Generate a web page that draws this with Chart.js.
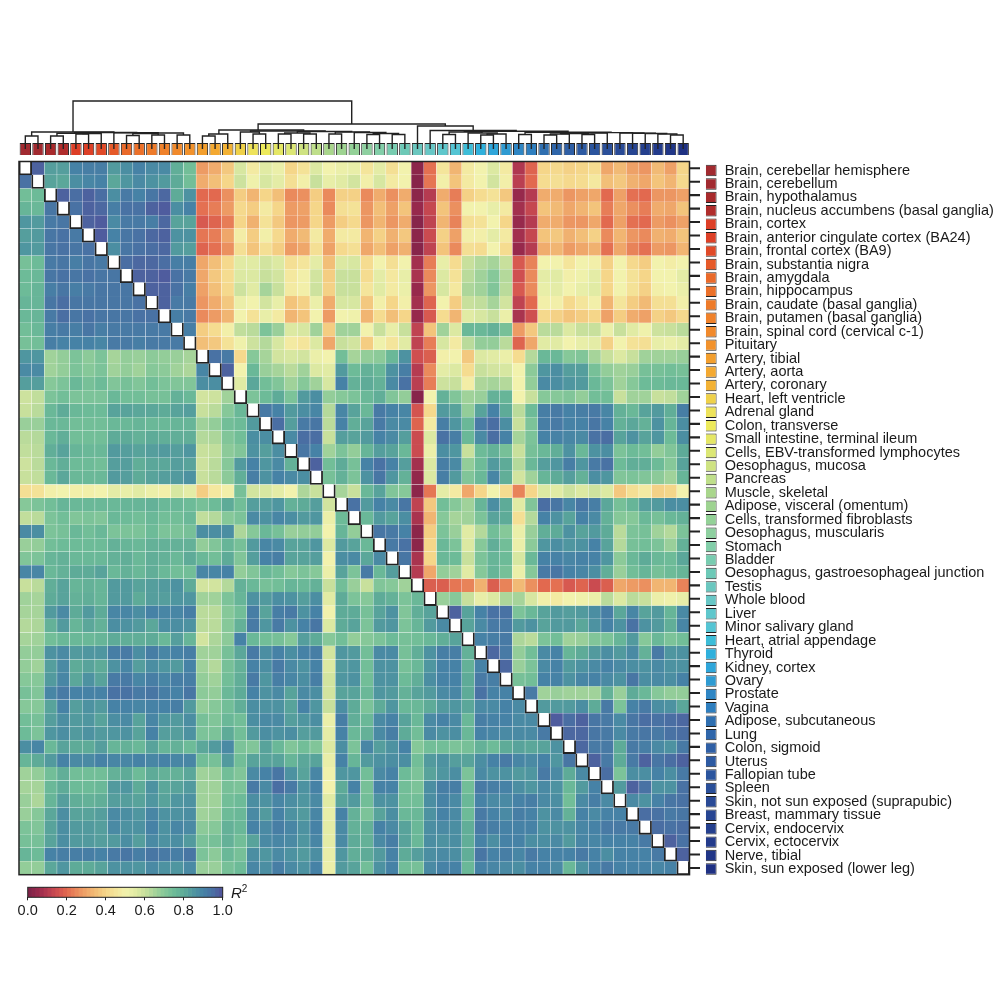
<!DOCTYPE html>
<html>
<head>
<meta charset="utf-8">
<script src="https://cdn.jsdelivr.net/npm/chart.js@4"></script>
<style>
  body { margin: 0; background: #fff; width: 1000px; height: 1000px; position: relative; overflow: hidden; }
  canvas { position: absolute; }
  #r2label { position: absolute; left: 231px; top: 884px; font: 15px "Liberation Sans", sans-serif; color: #1a1a1a; }
  #r2label sup { font-size: 10px; line-height: 0; }
</style>
</head>
<body>
<canvas id="swatchTop" width="680" height="20" style="left:15px;top:140px"></canvas>
<canvas id="dendro" width="680" height="60" style="left:15px;top:90px"></canvas>
<canvas id="heat" width="680" height="720" style="left:15px;top:158px"></canvas>
<canvas id="ticks" width="12" height="720" style="left:689px;top:158px"></canvas>
<canvas id="tissueKey" width="300" height="720" style="left:700px;top:160px"></canvas>
<canvas id="colorbar" width="225" height="40" style="left:14px;top:883px"></canvas>
<div id="r2label"><i>R</i><sup>2</sup></div>
<script>
const tissues = [
  "Brain, cerebellar hemisphere", "Brain, cerebellum", "Brain, hypothalamus",
  "Brain, nucleus accumbens (basal ganglia)", "Brain, cortex",
  "Brain, anterior cingulate cortex (BA24)", "Brain, frontal cortex (BA9)",
  "Brain, substantia nigra", "Brain, amygdala", "Brain, hippocampus",
  "Brain, caudate (basal ganglia)", "Brain, putamen (basal ganglia)",
  "Brain, spinal cord (cervical c-1)", "Pituitary", "Artery, tibial", "Artery, aorta",
  "Artery, coronary", "Heart, left ventricle", "Adrenal gland", "Colon, transverse",
  "Small intestine, terminal ileum", "Cells, EBV-transformed lymphocytes",
  "Oesophagus, mucosa", "Pancreas", "Muscle, skeletal", "Adipose, visceral (omentum)",
  "Cells, transformed fibroblasts", "Oesophagus, muscularis", "Stomach", "Bladder",
  "Oesophagus, gastroesophageal junction", "Testis", "Whole blood", "Liver",
  "Minor salivary gland", "Heart, atrial appendage", "Thyroid", "Kidney, cortex", "Ovary",
  "Prostate", "Vagina", "Adipose, subcutaneous", "Lung", "Colon, sigmoid", "Uterus",
  "Fallopian tube", "Spleen", "Skin, not sun exposed (suprapubic)", "Breast, mammary tissue",
  "Cervix, endocervix", "Cervix, ectocervix", "Nerve, tibial", "Skin, sun exposed (lower leg)"
];

const tissueColors = [
  "#a12a30", "#a12a30", "#a82a2c", "#b02d2c", "#dd3f27", "#dd4027", "#e04a28", "#e65a29",
  "#ea6a2a", "#ec712a", "#ee7b2a", "#f0822b", "#f18a2c", "#f2922c", "#f39f2e", "#f4a931",
  "#f3b235", "#efd14a", "#eee35b", "#edea5c", "#e5e766", "#dce775", "#cfe382", "#bfdf8b",
  "#a9d68c", "#9ed391", "#93d197", "#8ed0a0", "#83cea9", "#78ccb0", "#6dc9b7", "#6bc7bf",
  "#68c7c6", "#5fc7cc", "#55c5d4", "#3dbdd8", "#2fb0dc", "#2fa6da", "#2f9bd2", "#2f86c4",
  "#2f7fbf", "#2f6fb0", "#2f66aa", "#2f5fa5", "#2d5aa2", "#2b559e", "#2a4f99", "#294a96",
  "#274592", "#25408e", "#233b8b", "#213687", "#1f3183"
];

// R2 in percent, one row per tissue, null on the diagonal
const r2 = [
  [null,97,83,83,90,91,91,84,87,90,88,88,79,74,28,31,37,57,47,55,52,40,44,56,50,52,53,45,54,43,50,3,21,45,33,47,50,56,47,9,19,40,41,39,40,42,30,34,29,27,34,29,40],
  [94,null,82,81,87,89,90,81,85,88,86,84,80,74,31,35,40,59,51,57,54,43,49,60,53,55,58,49,57,47,50,2,22,49,36,47,50,58,49,11,20,42,43,41,42,46,35,37,32,30,36,33,41],
  [74,75,null,97,95,97,95,87,92,90,93,96,80,86,20,20,26,38,33,40,35,25,26,38,25,39,39,25,31,26,31,3,10,31,23,39,42,44,37,5,10,31,31,27,29,30,20,29,21,20,27,27,29],
  [77,76,93,null,94,97,96,91,94,94,97,98,87,90,21,23,28,41,38,47,40,28,29,40,25,43,44,27,35,29,36,5,13,36,26,50,50,53,47,7,13,36,34,30,33,36,23,30,26,23,31,30,36],
  [85,84,92,93,null,97,98,88,92,92,91,96,82,82,17,19,23,40,32,44,37,27,28,40,28,38,41,27,33,27,31,2,12,33,24,43,44,50,40,5,10,31,31,27,27,30,20,29,21,20,28,26,29],
  [83,84,93,94,92,null,98,90,93,94,96,97,86,86,22,23,30,48,38,49,41,31,34,47,31,47,47,33,39,32,37,3,14,39,29,49,49,54,47,7,13,36,37,32,35,39,25,33,27,25,32,31,36],
  [85,84,93,94,93,94,null,87,93,94,95,96,84,83,19,21,26,43,36,43,38,28,30,43,29,41,43,30,35,29,32,2,12,36,25,43,42,50,42,5,10,31,33,28,30,32,21,30,24,21,28,27,33],
  [73,75,92,93,91,93,92,null,95,96,96,95,91,91,30,35,41,55,55,58,56,43,45,54,35,56,57,42,50,43,50,7,23,53,42,60,63,65,60,17,24,50,50,45,50,49,39,50,41,38,50,48,50],
  [75,76,93,94,93,94,93,93,null,97,97,98,94,92,30,37,42,56,56,60,58,46,49,58,38,60,60,42,54,46,53,8,25,56,44,62,66,70,63,15,25,54,55,49,51,54,40,50,44,40,50,50,54],
  [75,77,91,93,91,92,93,93,93,null,97,97,94,91,29,35,41,59,55,65,60,47,49,59,39,60,60,45,55,47,52,5,27,57,46,64,66,71,62,17,25,53,54,50,53,55,40,50,44,39,49,50,52],
  [77,77,93,95,93,93,93,93,93,94,null,97,92,92,27,31,37,52,50,58,53,36,39,52,31,57,57,37,49,40,49,7,19,50,38,60,61,65,58,12,20,49,49,41,45,49,33,45,38,34,43,43,49],
  [76,77,92,95,93,94,93,93,93,94,94,null,91,92,25,28,33,50,44,53,47,33,36,50,28,50,51,33,42,35,40,5,17,42,33,55,57,60,52,8,15,41,39,36,38,40,29,38,31,29,39,37,41],
  [74,76,91,92,91,93,91,92,92,92,92,92,null,91,38,42,49,61,62,72,67,56,57,66,38,66,66,50,60,53,60,12,36,66,56,76,76,78,73,28,37,62,62,56,60,60,52,60,55,51,59,60,62],
  [73,74,91,90,90,90,89,92,92,91,92,92,92,null,35,37,44,51,59,63,57,47,45,56,30,60,58,38,51,45,55,12,23,57,47,62,68,68,62,19,30,55,55,50,53,54,39,50,44,43,53,52,54],
  [85,85,66,68,72,69,72,65,68,67,69,68,67,65,null,94,92,41,70,65,58,57,58,52,50,74,65,68,69,76,86,15,18,49,50,37,56,55,52,42,63,76,76,70,71,65,60,56,60,66,66,66,67],
  [88,88,66,68,72,70,72,66,68,66,70,69,66,64,89,null,97,50,76,67,65,62,66,56,55,84,75,78,76,86,91,10,25,54,56,42,60,58,57,50,69,85,87,83,83,73,68,66,67,73,73,74,73],
  [83,83,70,72,76,73,75,71,73,71,74,72,71,71,87,87,null,55,81,74,71,66,70,66,57,90,78,80,78,88,94,11,23,59,60,48,64,65,63,50,68,88,87,85,84,76,72,66,70,75,75,76,76],
  [59,61,72,74,72,72,72,76,74,74,73,73,78,76,58,59,66,null,72,75,80,72,84,87,68,70,72,76,79,71,68,2,50,78,71,66,67,78,77,50,60,70,70,71,68,74,74,60,66,66,60,61,66],
  [60,62,76,80,76,75,75,82,82,81,81,80,82,83,60,62,70,76,null,92,90,84,87,89,63,89,82,76,92,90,89,16,41,84,82,68,82,90,80,62,75,91,92,90,91,92,89,78,76,82,84,79,91],
  [67,67,76,76,74,74,74,76,76,77,76,76,77,77,66,68,74,75,84,null,95,83,92,93,62,90,79,82,92,88,88,19,47,91,85,76,92,95,87,60,72,91,92,90,90,93,90,78,81,78,86,77,87],
  [62,63,76,79,74,74,74,80,80,78,80,79,79,79,63,64,71,74,87,87,null,88,95,95,60,83,82,84,90,88,83,14,56,94,91,76,88,95,90,65,72,90,90,89,88,94,95,82,86,82,85,75,87],
  [61,62,79,82,77,76,76,84,83,82,83,84,83,85,60,61,69,71,86,83,87,null,93,90,66,72,68,77,83,82,76,14,52,87,85,60,75,78,73,60,73,76,79,86,76,86,87,72,75,74,68,71,80],
  [59,62,76,79,75,75,74,83,83,79,81,81,83,82,59,62,70,84,90,85,88,78,null,97,74,80,73,90,94,90,83,7,56,91,88,68,75,84,80,63,76,83,85,91,85,92,94,75,79,79,75,70,82],
  [60,61,76,81,76,76,76,84,83,80,82,83,84,86,60,62,69,79,91,86,90,88,87,null,73,78,72,86,93,85,78,4,56,91,84,71,76,89,79,58,66,77,80,83,78,87,85,71,72,71,69,66,77],
  [43,44,49,50,49,49,50,54,53,55,52,49,57,54,38,46,49,73,58,57,54,50,64,60,null,65,60,76,82,71,70,3,22,54,47,30,40,50,42,24,40,56,55,59,56,59,56,37,43,47,39,40,50],
  [70,72,74,77,76,76,76,76,77,77,78,76,76,75,73,75,80,74,83,83,85,78,80,83,58,null,94,84,90,88,93,12,37,74,70,66,77,87,80,55,71,95,93,89,93,91,81,73,77,83,84,87,87],
  [61,62,72,74,71,72,71,76,75,74,76,74,74,76,61,63,70,72,88,86,89,87,84,85,52,75,null,76,84,82,87,8,33,70,65,66,72,82,80,43,63,90,86,82,90,88,78,70,70,76,73,76,78],
  [88,87,72,73,76,74,76,72,72,72,75,72,72,73,87,87,87,64,70,76,73,67,68,68,50,77,68,null,93,92,90,3,38,72,67,55,63,74,70,52,67,79,80,86,82,84,80,62,72,73,66,63,72],
  [67,68,74,75,75,75,75,78,77,76,78,78,78,78,68,71,77,73,84,89,88,82,82,85,56,84,82,76,null,92,94,3,40,76,72,56,70,79,74,52,69,85,87,85,86,90,82,63,73,74,72,67,78],
  [71,72,77,78,76,76,76,78,79,76,79,78,76,80,76,74,80,71,83,90,91,82,82,83,50,87,88,81,88,null,93,8,40,76,75,60,72,77,75,57,76,90,90,89,90,90,85,69,76,80,76,75,81],
  [89,89,76,78,80,80,82,76,78,76,79,76,74,74,89,89,90,68,71,76,74,70,72,70,52,82,72,92,76,83,null,10,30,68,66,55,70,77,73,52,70,92,93,90,89,87,79,67,74,77,73,75,77],
  [60,62,79,82,77,78,77,84,84,82,83,84,86,80,58,58,63,78,76,73,74,77,76,78,60,74,67,60,71,70,66,null,18,18,22,24,32,18,24,34,26,20,21,17,19,14,18,30,28,26,33,33,24],
  [66,65,80,82,78,79,77,84,84,80,83,83,85,85,66,66,72,77,86,84,87,86,83,87,55,80,72,70,80,78,72,76,null,67,70,60,53,56,64,65,57,49,47,50,51,52,62,56,62,60,52,51,53],
  [65,65,84,88,80,84,80,89,89,87,90,89,89,91,62,62,70,74,91,82,91,92,86,90,50,80,80,73,82,86,71,79,82,null,97,82,90,94,94,72,76,82,84,83,84,87,91,81,89,82,84,77,88],
  [63,64,78,84,77,81,78,87,86,84,81,87,87,86,62,62,70,78,92,85,92,86,90,93,56,80,82,72,84,85,72,77,84,88,null,82,88,92,92,84,86,82,84,84,81,86,90,86,94,86,84,79,89],
  [65,66,74,76,76,76,77,80,79,79,80,76,83,77,58,64,69,90,76,74,73,70,83,80,70,74,68,70,72,75,73,74,76,79,82,null,90,91,92,64,62,72,74,66,67,71,72,77,84,70,76,72,74],
  [68,68,86,88,84,85,85,91,92,87,91,89,90,91,66,66,73,81,92,87,90,87,90,91,58,85,84,74,88,88,73,79,86,91,91,78,null,96,92,68,74,88,90,77,80,84,87,84,88,78,92,85,86],
  [68,66,83,88,80,82,80,86,89,83,87,85,84,90,66,63,73,78,90,87,92,88,86,90,56,84,85,74,86,86,73,76,85,90,90,78,90,null,96,67,72,88,90,84,86,88,90,88,87,86,88,86,86],
  [70,70,84,89,81,86,82,92,92,89,91,89,91,91,68,66,74,79,92,85,91,89,87,91,58,85,86,74,86,86,75,79,87,90,90,80,92,91,null,73,74,90,90,86,89,90,88,86,93,87,88,87,90],
  [73,71,89,92,90,90,90,94,94,92,93,91,90,93,69,68,76,80,90,86,88,82,88,87,58,82,82,76,85,84,78,82,84,88,89,80,94,90,90,null,92,66,67,66,66,66,78,67,80,76,70,68,68],
  [70,70,82,90,83,86,84,90,90,89,90,90,91,84,68,70,74,79,87,86,86,82,90,85,60,87,80,72,80,85,76,76,80,84,85,81,88,88,90,88,null,84,84,84,87,80,92,72,90,92,87,86,81],
  [74,73,83,87,84,85,82,87,88,82,89,85,84,87,73,71,76,74,87,88,88,83,85,87,52,91,79,76,88,90,82,76,88,90,88,76,91,90,90,88,88,null,98,95,97,93,92,88,93,95,94,95,96],
  [75,72,85,87,84,86,84,85,86,82,90,83,83,86,72,72,80,74,84,87,86,87,83,84,54,90,76,78,88,91,80,74,88,86,87,76,90,89,88,88,88,92,null,96,96,93,92,88,92,93,92,94,95],
  [87,89,76,82,80,80,83,77,78,76,82,77,78,75,81,84,88,72,71,82,76,71,74,71,56,87,72,89,83,86,90,70,74,74,72,73,78,75,80,82,81,82,86,null,96,92,92,80,92,91,88,86,92],
  [77,80,84,90,88,88,90,89,89,90,89,90,89,89,74,73,84,74,82,82,82,77,81,82,53,90,77,84,86,87,87,74,84,86,83,82,87,90,92,89,88,90,85,93,null,97,92,80,92,97,93,95,97],
  [66,68,74,79,74,74,74,78,80,75,80,78,78,81,66,67,74,71,88,90,93,86,82,89,51,85,85,74,88,90,75,72,82,85,87,72,88,86,86,84,85,92,88,80,88,null,95,72,87,87,90,87,92],
  [65,65,76,80,75,75,76,84,85,80,86,81,82,84,66,66,73,72,92,88,95,92,86,90,50,80,90,73,90,90,74,72,87,91,91,74,92,91,90,87,85,88,86,76,84,90,null,84,97,94,86,86,94],
  [67,64,77,83,79,78,79,83,83,82,85,82,85,86,66,66,74,75,87,86,89,87,85,88,55,82,84,74,86,86,74,74,87,90,88,76,90,88,88,90,91,88,87,74,88,91,88,null,88,86,90,93,94],
  [67,70,81,87,82,82,83,88,87,85,89,86,86,87,66,67,75,76,88,84,90,86,84,89,53,90,78,72,82,87,76,76,86,90,88,75,92,90,88,91,90,86,88,78,90,88,90,90,null,95,94,92,93],
  [72,71,82,87,84,84,83,88,86,86,90,86,89,88,69,70,78,76,90,88,91,89,86,90,54,88,78,78,90,88,82,76,87,88,87,79,92,91,90,90,90,86,86,86,89,90,92,92,92,null,95,94,95],
  [73,73,82,87,84,84,83,84,87,83,88,86,87,84,72,73,78,74,82,88,89,88,85,89,54,88,80,78,88,91,82,76,87,86,87,79,90,87,90,90,87,87,88,84,89,89,90,90,90,92,null,97,94],
  [77,75,90,91,91,91,90,92,93,91,93,92,91,93,72,69,76,73,87,85,88,86,84,87,53,85,79,80,84,90,80,83,87,88,87,79,93,90,91,89,92,90,90,90,92,90,87,90,90,90,92,null,97],
  [68,68,81,85,80,80,82,86,86,85,88,86,85,88,67,67,73,75,89,87,91,88,86,90,52,84,82,74,86,90,74,73,88,90,90,76,90,89,88,87,90,90,88,76,86,90,92,90,90,90,89,90,null]
];

// dendrogram merges: [x of left child, its height, x of right child, its height, merge height]
// x is in cell units from the left edge, -6 is a leaf running into its swatch
const brainLinks = [
  [0.5,-6,1.5,-6,7], [2.5,-6,3.5,-6,7], [4.5,-6,5.5,-6,9], [5,9,6.5,-6,9.5], [3,7,5.8,9.5,9.7],
  [8.5,-6,9.5,-6,7.5], [10.5,-6,11.5,-6,8], [9,7.5,11,8,9.5], [12.5,-6,13.5,-6,8], [10,9.5,13,8,10],
  [7.5,-6,11,10,10.2], [4.4,9.7,9.3,10.2,10.5], [1,7,7.5,10.5,11]
];
const tissueLinks = [
  [14.5,-6,15.5,-6,7], [15,7,16.5,-6,9], [18.5,-6,19.5,-6,9], [17.5,-6,19,9,11],
  [20.5,-6,21.5,-6,9], [22.5,-6,23.5,-6,9], [21,9,23,9,10], [24.5,-6,25.5,-6,9],
  [27.5,-6,28.5,-6,8.5], [29.5,-6,30.5,-6,8.5], [28,8.5,30,8.5,9.5], [26.5,-6,29,9.5,10.5],
  [25,9,27.7,10.5,11], [22,10,26.3,11,11.5], [18.3,11,24.2,11.5,12], [15.8,9,22.5,12,13]
];
const bloodLinks = [
  [33.5,-6,34.5,-6,8.5], [36.5,-6,37.5,-6,8], [37,8,38.5,-6,9], [35.5,-6,37.8,9,10], [34,8.5,36.6,10,11],
  [39.5,-6,40.5,-6,8.5], [41.5,-6,42.5,-6,8], [42,8,43.5,-6,9], [44.5,-6,45.5,-6,8.5], [42.8,9,45,8.5,9.5],
  [43.9,9.5,46.5,-6,10], [51.5,-6,52.5,-6,8], [50.5,-6,52,8,9], [49.5,-6,51.2,9,9.5], [48.5,-6,50.3,9.5,9.7],
  [47.5,-6,49.4,9.7,10], [45.2,10,48.5,10,10.4], [40,8.5,46.8,10.4,10.8], [35.2,11,43.4,10.8,11.8],
  [32.5,-6,39.3,11.8,12.5], [31.5,-6,35.9,12.5,17]
];
const rootLinks = [[18.9,13,33.7,17,19], [4.27,11,26.3,19,42]];

// colour scale, the bar under the heatmap
const scaleStops = [0,.05,.1,.15,.2,.25,.3,.35,.4,.45,.5,.55,.6,.65,.7,.75,.8,.85,.9,.95,1];
const scaleColors = ["#7c2248","#97294c","#b53b51","#cf4f50","#e2694f","#ea8a5c","#efa76a","#f2bf78","#f5d689","#f4e59b",
  "#f2f2ad","#e1eba4","#c8e09c","#a6d49a","#86c899","#6dbb98","#5eab98","#4f96a0","#4682a6","#4a6ea3","#52509a"];

function hexToRgb(h) {
  return [parseInt(h.slice(1,3),16), parseInt(h.slice(3,5),16), parseInt(h.slice(5,7),16)];
}
function valueColor(v) {
  let i = 0;
  while (i < scaleStops.length - 2 && v > scaleStops[i+1]) i++;
  const t = (v - scaleStops[i]) / (scaleStops[i+1] - scaleStops[i]);
  const a = hexToRgb(scaleColors[i]), b = hexToRgb(scaleColors[i+1]);
  return `rgb(${a.map((c,k) => Math.round(c + (b[k]-c)*t)).join(",")})`;
}

Chart.defaults.font.family = '"Liberation Sans", sans-serif';
Chart.defaults.animation = false;
Chart.defaults.responsive = false;
Chart.defaults.events = [];
Chart.defaults.plugins.legend.display = false;
Chart.defaults.plugins.tooltip.enabled = false;

const frame = {
  id: "frame",
  afterDatasetsDraw(chart, args, opts) {
    const a = chart.chartArea, ctx = chart.ctx;
    ctx.save();
    ctx.strokeStyle = "#222";
    ctx.lineWidth = opts.width || 1.5;
    ctx.strokeRect(a.left, a.top, a.right - a.left, a.bottom - a.top);
    ctx.restore();
  }
};

// heatmap: one floating bar per cell, rows stacked by their y range
const rowSets = r2.map((row, r) => ({
  data: tissues.map(() => [r, r + 1]),
  backgroundColor: row.map(v => v === null ? "#fff" : valueColor(v / 100)),
  borderColor: "rgba(255,255,255,0.13)",
  borderWidth: 0.5,
  grouped: false,
  barPercentage: 1,
  categoryPercentage: 1
}));
const diagonalSet = {
  data: tissues.map((t, i) => [i, i + 1]),
  backgroundColor: "#fff",
  borderColor: "#222",
  borderWidth: 1.8,
  grouped: false,
  barPercentage: 1,
  categoryPercentage: 1,
  order: -1
};
new Chart(document.getElementById("heat"), {
  type: "bar",
  data: { labels: tissues, datasets: [...rowSets, diagonalSet] },
  options: {
    layout: { padding: { left: 4, right: 5.5, top: 3.5, bottom: 3.3 } },
    scales: {
      x: { display: false },
      y: { display: false, min: 0, max: tissues.length, reverse: true }
    }
  },
  plugins: [frame]
});

// swatches above the heatmap
new Chart(document.getElementById("swatchTop"), {
  type: "bar",
  data: {
    labels: tissues,
    datasets: [{
      data: tissues.map(() => 1),
      backgroundColor: tissueColors,
      borderColor: "#222",
      borderWidth: 1,
      barPercentage: 0.9,
      categoryPercentage: 1
    }]
  },
  options: {
    layout: { padding: { left: 4, right: 5.5, top: 3, bottom: 5 } },
    scales: { x: { display: false }, y: { display: false, min: 0, max: 1 } }
  }
});

// dendrogram
const allLinks = [...brainLinks, ...tissueLinks, ...bloodLinks, ...rootLinks];
new Chart(document.getElementById("dendro"), {
  type: "scatter",
  data: {
    datasets: allLinks.map(([xl, hl, xr, hr, h]) => ({
      data: [{ x: xl, y: hl }, { x: xl, y: h }, { x: xr, y: h }, { x: xr, y: hr }],
      showLine: true,
      borderColor: "#222",
      borderWidth: 1.4,
      pointRadius: 0
    }))
  },
  options: {
    layout: { padding: { left: 4, right: 5.5, top: 3, bottom: 1 } },
    scales: {
      x: { display: false, min: 0, max: tissues.length },
      y: { display: false, min: -6, max: 50 }
    }
  }
});

// tick marks between heatmap and the key
new Chart(document.getElementById("ticks"), {
  type: "bar",
  data: {
    labels: tissues,
    datasets: [{ data: tissues.map(() => 1), backgroundColor: "#222", barThickness: 1.4 }]
  },
  options: {
    indexAxis: "y",
    layout: { padding: { left: 1, right: 1, top: 3.5, bottom: 3.3 } },
    scales: { x: { display: false, min: 0, max: 1 }, y: { display: false } }
  }
});

// swatches and tissue names on the right
new Chart(document.getElementById("tissueKey"), {
  type: "bar",
  data: {
    labels: tissues,
    datasets: [{
      data: tissues.map(() => 1),
      backgroundColor: tissueColors,
      borderColor: "#222",
      borderWidth: 1,
      barPercentage: 0.85,
      categoryPercentage: 1
    }]
  },
  options: {
    indexAxis: "y",
    layout: { padding: { left: 5.7, top: 3.8, bottom: 4.3 } },
    scales: {
      x: { display: false, min: 0, max: 1 },
      y: {
        position: "right",
        grid: { display: false, drawTicks: false },
        border: { display: false },
        ticks: { autoSkip: false, padding: 8, color: "#1a1a1a", font: { size: 14.5 } },
        afterFit: s => { s.width = 283.3; s.paddingTop = 0; s.paddingBottom = 0; }
      }
    }
  }
});

// colour bar
const barSteps = [];
for (let v = 0; v < 1; v += 0.02) barSteps.push(v);
new Chart(document.getElementById("colorbar"), {
  type: "bar",
  data: {
    labels: ["R2"],
    datasets: barSteps.map(v => ({
      data: [[v, v + 0.02]],
      backgroundColor: valueColor(v + 0.01),
      grouped: false,
      barPercentage: 1,
      categoryPercentage: 1
    }))
  },
  options: {
    indexAxis: "y",
    layout: { padding: { left: 13.7, right: 16.3, top: 4.3 } },
    scales: {
      y: { display: false },
      x: {
        min: 0, max: 1,
        grid: { display: true, drawOnChartArea: false, drawTicks: true, tickLength: 3, color: "#222" },
        border: { display: false },
        ticks: { stepSize: 0.2, padding: 2, color: "#1a1a1a", font: { size: 14.5 }, maxRotation: 0,
          callback: v => v.toFixed(1) },
        afterFit: s => { s.height = 25.7; }
      }
    },
    plugins: { frame: { width: 1 } }
  },
  plugins: [frame]
});
</script>
</body>
</html>
